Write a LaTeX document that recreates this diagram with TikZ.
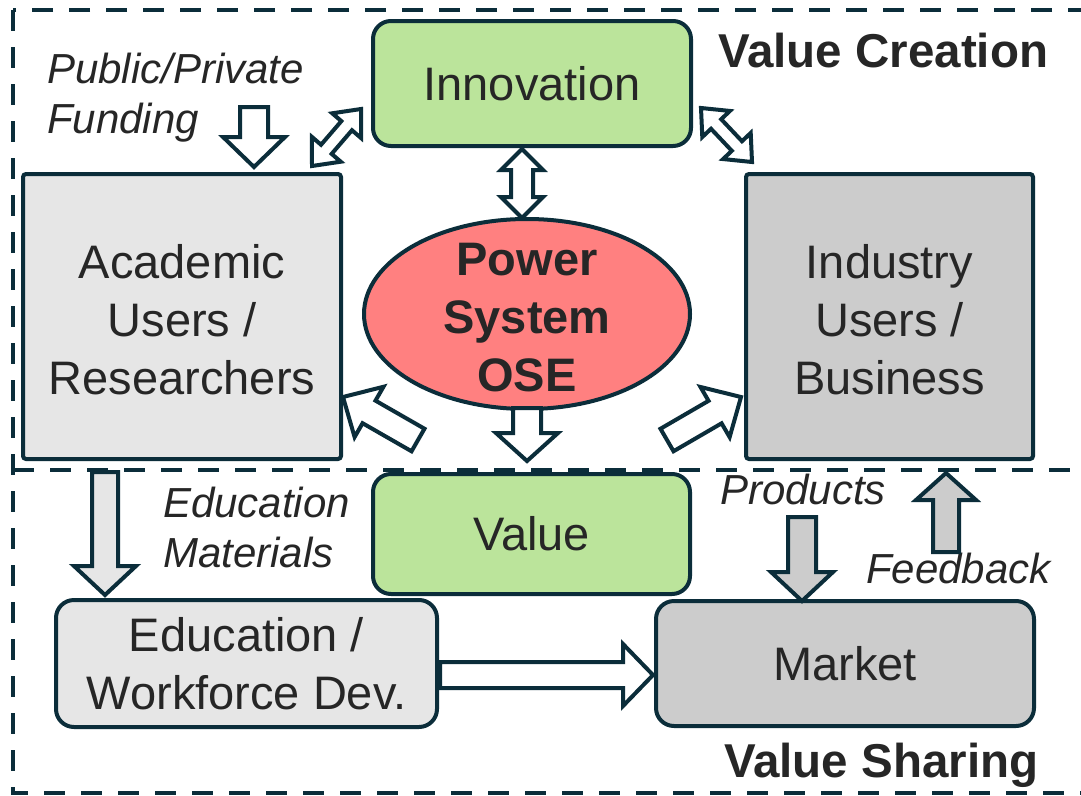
\documentclass[tikz,border=0pt]{standalone}
\usepackage{fontspec}
\setmainfont{Liberation Sans}
\usetikzlibrary{calc,shapes.geometric}

\definecolor{ink}{HTML}{0B2D3A}
\definecolor{txt}{HTML}{262626}
\definecolor{leaf}{HTML}{BBE49B}
\definecolor{rose}{HTML}{FF8080}
\definecolor{greyA}{HTML}{E6E6E6}
\definecolor{greyB}{HTML}{CCCCCC}

% block arrow: #1 fill, #2 tail, #3 tip, #4 shaft half-width, #5 head half-width, #6 head length
\newcommand\blockarrow[6]{%
  \coordinate (#3-base) at ($(#3)!#6!(#2)$);
  \draw[arrowline, fill=#1]
    ($(#2)!#4!90:(#3)$) -- ($(#3-base)!#4!90:(#3)$) -- ($(#3-base)!#5!90:(#3)$)
    -- (#3)
    -- ($(#3-base)!#5!-90:(#3)$) -- ($(#3-base)!#4!-90:(#3)$) -- ($(#2)!#4!-90:(#3)$)
    -- cycle;
}
% two-headed block arrow between tips #2 and #3
\newcommand\twinarrow[6]{%
  \coordinate (#2-base) at ($(#2)!#6!(#3)$);
  \coordinate (#3-base) at ($(#3)!#6!(#2)$);
  \draw[arrowline, fill=#1]
    (#2) -- ($(#2-base)!#5!90:(#3)$) -- ($(#2-base)!#4!90:(#3)$)
    -- ($(#3-base)!#4!90:(#3)$) -- ($(#3-base)!#5!90:(#3)$)
    -- (#3)
    -- ($(#3-base)!#5!-90:(#3)$) -- ($(#3-base)!#4!-90:(#3)$)
    -- ($(#2-base)!#4!-90:(#3)$) -- ($(#2-base)!#5!-90:(#3)$)
    -- cycle;
}

\begin{document}
\begin{tikzpicture}[x=1pt,y=-1pt,
  frame/.style={draw=ink, line width=4pt, dash pattern=on 21pt off 16pt},
  box/.style={draw=ink, line width=4pt, text=txt, align=center, inner sep=0pt,
    font=\fontsize{47}{58}\selectfont},
  roundbox/.style={box, rounded corners=18pt},
  squarebox/.style={box, rounded corners=3pt},
  oval/.style={box, ellipse},
  boxtext/.style={text=txt, align=center, inner sep=0pt,
    font=\fontsize{47}{58}\selectfont},
  lbl/.style={text=txt, inner sep=0pt, anchor=base west,
    font=\fontsize{42}{50}\selectfont\itshape},
  heading/.style={text=txt, inner sep=0pt, anchor=base west,
    font=\fontsize{47.5}{56}\selectfont\bfseries},
  arrowline/.style={draw=ink, line width=4pt, line join=miter}]

\useasboundingbox (0,0) rectangle (1081,795);
\clip (0,0) rectangle (1081,795);
\fill[white] (0,0) rectangle (1081,795);

% dashed frame and the line between the two halves
\draw[frame] (13,10) rectangle (1100,793);
\draw[frame] (13,470) -- (1100,470);

% boxes
\node[roundbox, fill=leaf, minimum width=318pt, minimum height=125pt] (innov) at (532,83.5) {Innovation};
\node[squarebox, fill=greyA, minimum width=318pt, minimum height=285pt] (acad) at (182,316.5) {};
\node[boxtext] (acadtext) at ($(acad.center)+(0,3.5)$) {Academic\\Users /\\Researchers};
\node[squarebox, fill=greyB, minimum width=287pt, minimum height=285pt] (indus) at (889.5,316.5) {};
\node[boxtext] (industext) at ($(indus.center)+(0,3.5)$) {Industry\\Users /\\Business};
\node[oval, fill=rose, minimum width=326pt, minimum height=190pt] (ose) at (527,314) {};
\node[boxtext, font=\fontsize{47}{58}\selectfont\bfseries] (osetext) at ($(ose.center)+(0,4)$) {Power\\System\\OSE};
\node[roundbox, fill=leaf, minimum width=317pt, minimum height=120pt] (value) at (531.5,534) {Value};
\node[roundbox, fill=greyA, minimum width=381pt, minimum height=127pt] (edu) at (246.5,663.5) {Education /\\Workforce Dev.};
\node[roundbox, fill=greyB, minimum width=378pt, minimum height=125pt] (market) at (845,663.5) {Market};

% headings and labels
\node[heading] (hcreate) at (718,67) {Value Creation};
\node[heading] (hshare) at (724,777) {Value Sharing};
\node[lbl] (lfund1) at (47,83) {Public/Private};
\node[lbl] (lfund2) at (47,133) {Funding};
\node[lbl] (ledu1) at (163,517) {Education};
\node[lbl] (ledu2) at (163,567) {Materials};
\node[lbl] (lprod) at (720,504) {Products};
\node[lbl] (lfeed) at (866,583) {Feedback};

% arrow end points
\coordinate (fundA) at (254,107);  \coordinate (fundB) at (254,167);
\coordinate (aiA) at (312,166);    \coordinate (aiB) at (361,109);
\coordinate (ibA) at (701,108);    \coordinate (ibB) at (752,162);
\coordinate (ioA) at (522,149);    \coordinate (ioB) at (522,218);
\coordinate (ovA) at (527,408);    \coordinate (ovB) at (527,461);
\coordinate (oaA) at (418,440);    \coordinate (oaB) at (343,397);
\coordinate (obA) at (667,440);    \coordinate (obB) at (741,397);
\coordinate (emA) at (105,472);    \coordinate (emB) at (105,595);
\coordinate (wmA) at (440,675);    \coordinate (wmB) at (653,675);
\coordinate (prA) at (802,517);    \coordinate (prB) at (802,601);
\coordinate (fbA) at (946,552);    \coordinate (fbB) at (946,473);

% arrows
\blockarrow{white}{fundA}{fundB}{14pt}{31pt}{30pt}
\twinarrow{white}{aiA}{aiB}{7pt}{19pt}{22pt}
\twinarrow{white}{ibA}{ibB}{7pt}{19pt}{22pt}
\twinarrow{white}{ioA}{ioB}{11pt}{21pt}{21pt}
\blockarrow{white}{ovA}{ovB}{14pt}{31pt}{28pt}
\blockarrow{white}{oaA}{oaB}{13pt}{29pt}{30pt}
\blockarrow{white}{obA}{obB}{13pt}{29pt}{30pt}
\blockarrow{greyA}{emA}{emB}{13pt}{31pt}{29pt}
\blockarrow{white}{wmA}{wmB}{13pt}{31pt}{30pt}
\blockarrow{greyB}{prA}{prB}{14pt}{31pt}{29pt}
\blockarrow{greyB}{fbA}{fbB}{13pt}{30pt}{27pt}

\end{tikzpicture}
\end{document}
